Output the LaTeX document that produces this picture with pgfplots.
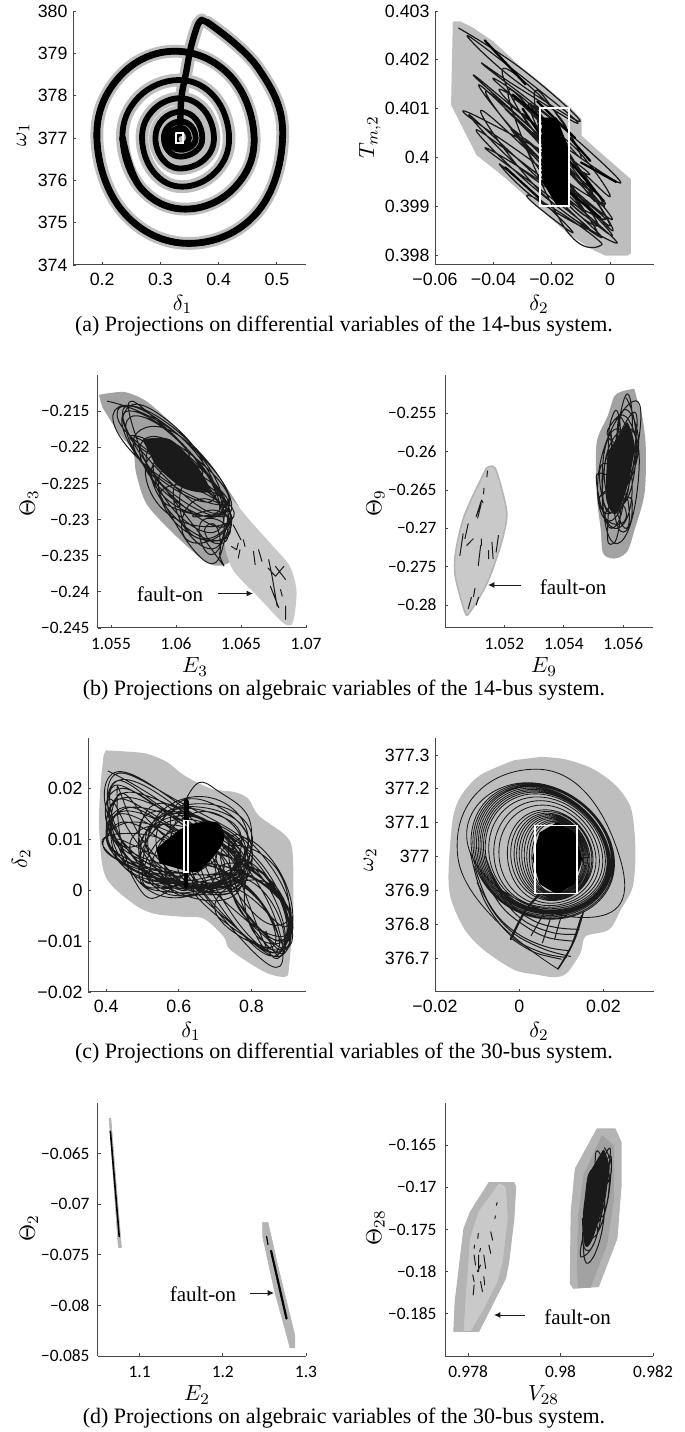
\documentclass[border=0pt]{standalone}
\usepackage{pgfplots}
\usepackage{pgfplotstable}
\pgfplotsset{compat=1.18}
\usetikzlibrary{arrows.meta}
\usepackage{fontspec}
\setmainfont{Liberation Serif}
\newfontfamily\hv{Liberation Sans}
\newfontfamily\my{Carlito}
\definecolor{gA}{HTML}{BEBEBE}
\definecolor{gD}{HTML}{A2A2A2}
\definecolor{gL}{HTML}{C9C9C9}
\definecolor{gE}{HTML}{B4B4B4}
\definecolor{ink}{HTML}{1A1A1A}
\pgfplotstableread{
x y
.334 377.15
.336 377.94
.3445 378.57
.352 379.12
.3635 379.65
.371 379.79
}\spLeg
\pgfplotstableread{
x y
.381 379.73
.468 378.65
.51 377.1
.466 375.24
.349 374.51
.237 375.24
.191 377
.23 378.45
.325 379.05
.421 378.45
.461 377
.426 375.81
.343 375.32
.267 375.81
.235 377
}\spOuter
\pgfplotstableread{
x y
.381 379.73
.468 378.65
.51 377.1
.466 375.24
.349 374.51
.237 375.24
.191 377
.23 378.45
.325 379.05
.421 378.45
.461 377
.426 375.81
.343 375.32
.267 375.81
.235 377
.263 377.97
.332 378.37
.393 377.97
.418 377
.3944 376.19
.3376 375.85
.2887 376.19
.2685 377
.2876 377.66
.3336 377.94
.3749 377.66
.392 377
.3752 376.49
.3347 376.28
.3042 376.49
.2915 377
.3042 377.44
.3347 377.62
.3611 377.44
.372 377
.3611 376.69
.3347 376.56
.3144 376.69
.306 377
.3144 377.28
.3347 377.39
.353 377.28
.3606 377
.353 376.8
.3347 376.72
.3212 376.8
.3157 377
.3212 377.17
.3347 377.24
.3448 377.17
.349 377
.3448 376.88
.3347 376.83
.3285 376.88
.326 377
.3285 377.08
.3347 377.11
}\spMain
\pgfplotsset{
  panel/.style={
    scale only axis, axis lines=left, axis line style={-,black!72,line width=.5pt},
    tick style={black!72,line width=.4pt}, tick align=inside, major tick length=1.6pt,
    enlargelimits=false, clip=false, scaled ticks=false,
    every axis plot/.append style={line join=round,line cap=round},
    label style={font=\fontsize{10.95}{13}\selectfont,inner sep=0pt},
  },
  hvt/.style={tick label style={font=\hv\fontsize{8.9}{10}\selectfont},
    xticklabel style={yshift=-.5pt},yticklabel style={xshift=.8pt}},
  myt/.style={tick label style={font=\my\fontsize{8.7}{10}\selectfont},
    xticklabel style={yshift=-1.4pt},yticklabel style={xshift=-.7pt}},
  xl/.style 2 args={xlabel style={at={(axis description cs:#1,#2)},anchor=center}},
  yl/.style 2 args={ylabel style={at={(axis description cs:#1,#2)},anchor=center}},
  loop/.style={ink,line width=.5pt,smooth,tension=1,forget plot},
  frag/.style={ink,line width=.5pt,unbounded coords=jump},
  box/.style={white,line width=.85pt,line join=miter},
  blob/.style 2 args={fill=#1,draw=#2,line width=.8pt,smooth,tension=.5},
}
\begin{document}
\begin{tikzpicture}
\path[use as bounding box] (0pt,0pt) rectangle (342.5pt,716pt);
% ---------- a left
\begin{axis}[panel,hvt,at={(36.5pt,583.5pt)},anchor=south west,width=116.5pt,height=127pt,
  xmin=.15,xmax=.55,ymin=374,ymax=380,xtick={.2,.3,.4,.5},xticklabels={0.2,0.3,0.4,0.5},
  ytick={374,375,376,377,378,379,380},yticklabels={374,375,376,377,378,379,380},
  xlabel={$\delta_1$},ylabel={$\omega_1$},xl={.47}{-.154},yl={-.2146}{.512}]
\addplot[gA,line width=6.4pt,smooth,tension=.68] table {\spMain};
\addplot[gA,line width=6.4pt,smooth,tension=.6] table {\spLeg};
\addplot[black,line width=2.9pt,smooth,tension=.68] table {\spMain};
\addplot[black,line width=3.4pt,smooth,tension=.68] table {\spOuter};
\addplot[black,line width=3.2pt,smooth,tension=.6] table {\spLeg};
\addplot[black,line width=3.2pt] coordinates {(.371,379.79)(.381,379.73)};
\addplot[box] coordinates {(.327,377.12)(.339,377.12)(.339,376.88)(.327,376.88)(.327,377.12)};
\end{axis}
% ---------- a right
\begin{axis}[panel,hvt,at={(217.5pt,583.5pt)},anchor=south west,width=109.5pt,height=127pt,
  xmin=-.06,xmax=.015,ymin=.3978,ymax=.403,xtick={-.06,-.04,-.02,0},xticklabels={−0.06,−0.04,−0.02,0},
  ytick={.398,.399,.4,.401,.402,.403},yticklabels={0.398,0.399,0.4,0.401,0.402,0.403},
  xlabel={$\delta_2$},ylabel={$T_{m,2}$},xl={.475}{-.154},yl={-.297}{.504}]
\addplot[fill=gA,draw=gA,line width=.8pt] coordinates {(-.05364,.40277)(-.05133,.40277)(-.04728,.40265)(-.04035,.40237)(-.0311,.40186)(-.02185,.40142)(-.01376,.40101)(-.01006,.40078)(-.01006,.40044)(-.00566,.4002)(.00682,.39955)(.00682,.39805)(.0059,.39801)(-.00162,.39801)(-.00566,.39812)(-.01376,.39843)(-.03688,.39965)(-.04555,.40006)(-.05422,.40108)} -- cycle;
\addplot[loop,line width=.6pt,tension=.75] coordinates {
(-.0519,.40265)(-.0300,.40180)(-.0103,.40074)(-.0330,.40160)
(-.049,.40250)(-.0290,.40160)(-.0110,.40070)(-.0320,.40145)
(-.0435,.40190)(-.0180,.40070)(.0036,.39948)(-.0220,.40050)
(-.0469,.40169)(-.0220,.40030)(.0007,.39873)(-.0260,.40010)
(-.0450,.40149)(-.0210,.40015)(-.0016,.39905)(-.0240,.39995)
(-.0427,.40135)(-.0230,.40040)(-.0070,.39965)(-.0250,.40020)
(-.0505,.40095)(-.0250,.39985)(-.0016,.39873)(-.0280,.39965)
(-.0484,.40088)(-.0250,.39960)(-.0028,.39836)(-.0265,.39940)
(-.0459,.40057)(-.0205,.39945)(.0024,.39825)(-.0230,.39925)
(-.0444,.40096)(-.0205,.39970)(.0007,.39840)(-.0235,.39950)
(-.0429,.4002)(-.0240,.39935)(-.0071,.39853)(-.0255,.39915)
(-.038,.39987)(-.0250,.39920)(-.0127,.39846)(-.0260,.39905)
(-.0271,.39921)(-.0140,.39875)(-.0028,.39822)(-.0160,.39860)
(-.035,.4013)(-.0195,.40042)(-.006,.3993)(-.0215,.40018)
(-.033,.4012)(-.0165,.40022)(-.002,.3990)(-.0185,.39998)
(-.030,.4009)(-.014,.39987)(.000,.3986)(-.016,.39963)
(-.028,.4011)(-.0155,.40022)(-.005,.3991)(-.0175,.39998)
(-.036,.4010)(-.022,.40012)(-.010,.3990)(-.024,.39988)
(-.034,.4006)(-.020,.39982)(-.008,.3988)(-.022,.39958)
(-.030,.4004)(-.016,.39962)(-.004,.3986)(-.018,.39938)
(-.026,.4013)(-.017,.40077)(-.010,.4000)(-.019,.40053)
(-.040,.4016)(-.028,.40112)(-.018,.4004)(-.030,.40088)
(-.038,.4014)(-.026,.40092)(-.016,.4002)(-.028,.40068)
(-.037,.4018)(-.025,.40132)(-.015,.4006)(-.027,.40108)
(-.022,.4007)(-.010,.40007)(.000,.3992)(-.012,.39983)
(-.020,.4001)(-.0085,.39942)(.001,.3985)(-.0105,.39918)
(-.024,.3998)(-.013,.39922)(-.004,.3984)(-.015,.39898)};
\addplot[black,line width=1.1pt,unbounded coords=jump] coordinates {
(-.0334,.40129)(-.0230,.40078)(nan,nan)
(-.0300,.40100)(-.0232,.40040)(nan,nan)
(-.0430,.40240)(-.0290,.40150)(nan,nan)
(-.0250,.40115)(-.0120,.40040)(nan,nan)
(-.0138,.4004)(-.0068,.39993)(nan,nan)
(-.014,.39993)(-.0022,.39911)(nan,nan)
(-.0143,.39931)(-.0034,.39877)(nan,nan)
(-.0100,.39990)(.0020,.39950)(nan,nan)
(-.0360,.39980)(-.0240,.39915)};
\addplot[fill=black,draw=black] coordinates {(-.0232,.40081)(-.0184,.40081)(-.014,.40013)(-.014,.39901)(-.0184,.39904)(-.0232,.39952)} -- cycle;
\addplot[box] coordinates {(-.02416,.40101)(-.01399,.40101)(-.01399,.39901)(-.02416,.39901)(-.02416,.40101)};
\end{axis}
% ---------- b left
\begin{axis}[panel,myt,at={(49pt,402pt)},anchor=south west,width=104pt,height=126.5pt,
  xmin=1.054,xmax=1.07,ymin=-.245,ymax=-.21,xtick={1.055,1.06,1.065,1.07},xticklabels={1.055,1.06,1.065,1.07},
  ytick={-.245,-.24,-.235,-.23,-.225,-.22,-.215},yticklabels={−0.245,−0.24,−0.235,−0.23,−0.225,−0.22,−0.215},
  xlabel={$E_3$},ylabel={$\Theta_3$},xl={.466}{-.154},yl={-.332}{.494}]
\addplot[blob={gD}{gD}] coordinates {(1.05414,-.21284)(1.05492,-.21261)(1.05609,-.21248)(1.05752,-.21353)(1.05908,-.21583)(1.06116,-.2195)(1.06323,-.22408)(1.06492,-.2289)(1.06414,-.23096)(1.06388,-.23372)(1.06422,-.23555)(1.0635,-.23624)(1.06271,-.2361)(1.06168,-.23486)(1.0596,-.23142)(1.05778,-.22775)(1.057,-.22362)(1.05674,-.22041)(1.0557,-.21812)(1.0544,-.21445)} -- cycle;
\addplot[blob={gL}{gL}] coordinates {(1.06362,-.22706)(1.06427,-.22729)(1.06557,-.23005)(1.06739,-.23372)(1.06869,-.23647)(1.0692,-.23968)(1.06908,-.24289)(1.06882,-.2445)(1.06817,-.24404)(1.06635,-.2406)(1.06453,-.23716)(1.06388,-.23417)(1.06375,-.2305)} -- cycle;
\addplot[loop] coordinates {
(1.05471,-.21362)(1.06038,-.21858)(1.06388,-.22775)(1.05752,-.22225)
(1.05557,-.21445)(1.0609,-.21904)(1.06414,-.22913)(1.05856,-.22454)
(1.05609,-.21514)(1.06142,-.22133)(1.06375,-.23096)(1.0583,-.22408)
(1.05648,-.21583)(1.06116,-.22087)(1.06297,-.22913)(1.05752,-.22087)
(1.05622,-.21468)(1.05934,-.21628)(1.06194,-.22271)(1.05726,-.21858)
(1.05752,-.22041)(1.06194,-.22454)(1.06427,-.23005)(1.05934,-.22913)
(1.05804,-.22133)(1.0622,-.22546)(1.06401,-.23234)(1.06012,-.23005)
(1.0583,-.22225)(1.06245,-.22454)(1.06375,-.22913)(1.0596,-.22821)
(1.05934,-.22546)(1.0622,-.22638)(1.06414,-.23005)(1.06142,-.23234)
(1.06038,-.22592)(1.06245,-.22592)(1.06388,-.22844)(1.06168,-.22959)
(1.06168,-.22913)(1.06336,-.2289)(1.06388,-.23096)(1.06271,-.23486)
(1.0618,-.23096)(1.06323,-.23005)(1.06401,-.23234)(1.06297,-.23326)
(1.0622,-.23142)(1.0631,-.23096)(1.06336,-.23463)(1.06258,-.23372)
(1.0560,-.2165)(1.0600,-.2180)(1.0630,-.2270)(1.0585,-.2240)
(1.0570,-.2180)(1.0610,-.2195)(1.0635,-.2290)(1.0590,-.2260)
(1.0575,-.2190)(1.0615,-.2215)(1.0640,-.2285)(1.0595,-.2275)
(1.0580,-.2200)(1.0620,-.2230)(1.0635,-.2310)(1.0600,-.2290)
(1.0585,-.2215)(1.0625,-.2240)(1.0640,-.2320)(1.0600,-.2305)
(1.0590,-.2230)(1.0625,-.2255)(1.0635,-.2330)(1.0610,-.2320)
(1.0600,-.2250)(1.0630,-.2270)(1.0640,-.2310)(1.0610,-.2330)
(1.0610,-.2280)(1.0635,-.2280)(1.0640,-.2315)(1.0615,-.2345)
(1.0565,-.2160)(1.0590,-.2170)(1.0620,-.2240)(1.0575,-.2200)
(1.0555,-.2150)(1.0580,-.2160)(1.0610,-.2215)(1.0568,-.2185)};
\addplot[blob={ink}{ink}] coordinates {(1.0575,-.2190)(1.0595,-.2190)(1.0615,-.2225)(1.0625,-.2260)(1.0605,-.2255)(1.0585,-.2225)} -- cycle;
\addplot[frag] coordinates {
(1.0644,-.23073)(1.065,-.2328)(nan,nan)
(1.06427,-.23372)(1.06466,-.23417)(1.06479,-.23326)(nan,nan)
(1.06479,-.23532)(1.06492,-.23417)(nan,nan)
(1.06518,-.2328)(1.06531,-.23372)(nan,nan)
(1.06596,-.2344)(1.06609,-.23624)(nan,nan)
(1.06635,-.23417)(1.06661,-.23578)(nan,nan)
(1.06713,-.23555)(1.06739,-.23784)(nan,nan)
(1.06765,-.23647)(1.06843,-.2383)(nan,nan)
(1.06708,-.2367)(1.06765,-.23784)(1.0683,-.23647)(nan,nan)
(1.06739,-.23784)(1.06778,-.24197)(nan,nan)
(1.06726,-.23922)(1.06791,-.2422)(nan,nan)
(1.06843,-.24197)(1.06843,-.24381)(nan,nan)
(1.06804,-.23968)(1.06817,-.2406)};
\end{axis}
% ---------- b right
\begin{axis}[panel,myt,at={(222.5pt,402pt)},anchor=south west,width=104pt,height=126.5pt,
  xmin=1.05,xmax=1.057,ymin=-.283,ymax=-.25,xtick={1.052,1.054,1.056},xticklabels={1.052,1.054,1.056},
  ytick={-.28,-.275,-.27,-.265,-.26,-.255},yticklabels={−0.28,−0.275,−0.27,−0.265,−0.26,−0.255},
  xlabel={$E_9$},ylabel={$\Theta_9$},xl={.476}{-.154},yl={-.334}{.494}]
\addplot[blob={gD}{gD}] coordinates {(1.05635,-.2519)(1.05647,-.25365)(1.05661,-.25539)(1.05673,-.25932)(1.05669,-.26543)(1.05635,-.27023)(1.05613,-.27284)(1.05584,-.27372)(1.05556,-.2738)(1.05533,-.27306)(1.05527,-.27023)(1.05513,-.26543)(1.05513,-.25888)(1.0555,-.25539)(1.05573,-.25278)(1.05607,-.25212)} -- cycle;
\addplot[blob={gL}{gE}] coordinates {(1.05139,-.26216)(1.05169,-.26216)(1.05203,-.26674)(1.05207,-.26892)(1.05186,-.27241)(1.05141,-.27721)(1.05084,-.28092)(1.05067,-.28092)(1.05035,-.27634)(1.05035,-.27328)(1.0506,-.26892)(1.05095,-.26565)} -- cycle;
\addplot[loop] coordinates {
(1.0561,-.2530)(1.0564,-.2600)(1.0556,-.2690)(1.0552,-.2620)
(1.0563,-.2535)(1.0565,-.2590)(1.0558,-.2660)(1.0555,-.2600)
(1.0557,-.2548)(1.0559,-.2570)(1.0557,-.2588)(1.0555,-.2570)
(1.0562,-.2560)(1.0565,-.2640)(1.0558,-.2720)(1.0553,-.2650)
(1.0558,-.2590)(1.0563,-.2650)(1.0557,-.2700)(1.0551,-.2640)
(1.0555,-.2630)(1.0561,-.2640)(1.0556,-.2680)(1.0552,-.2660)
(1.0559,-.2650)(1.0562,-.2680)(1.0560,-.2705)(1.0557,-.2680)
(1.0557,-.2640)(1.0559,-.2680)(1.05565,-.2720)(1.0555,-.2680)
(1.0560,-.2535)(1.0563,-.2570)(1.0559,-.2610)(1.0558,-.2570)
(1.0560,-.2560)(1.0563,-.2610)(1.0556,-.2680)(1.0553,-.2620)
(1.0558,-.2570)(1.0562,-.2620)(1.0557,-.2670)(1.0554,-.2610)
(1.0562,-.2570)(1.0564,-.2620)(1.0559,-.2670)(1.0556,-.2620)
(1.0563,-.2550)(1.0564,-.2590)(1.0560,-.2630)(1.0558,-.2590)
(1.0561,-.2545)(1.0565,-.2600)(1.0558,-.2650)(1.0556,-.2580)
(1.0557,-.2600)(1.0562,-.2640)(1.0556,-.2680)(1.0552,-.2630)
(1.0556,-.2620)(1.0560,-.2660)(1.0556,-.2700)(1.0553,-.2660)
(1.0557,-.2660)(1.0561,-.2680)(1.0558,-.2695)(1.0554,-.2680)
(1.0561,-.2660)(1.0563,-.2675)(1.0561,-.2700)(1.0558,-.2680)};
\addplot[blob={ink}{ink}] coordinates {(1.05613,-.25627)(1.05635,-.25932)(1.05607,-.26499)(1.05573,-.26805)(1.05544,-.26586)(1.0555,-.26019)} -- cycle;
\addplot[frag] coordinates {
(1.05143,-.2625)(1.05141,-.26329)(nan,nan)
(1.05131,-.26478)(1.0513,-.26552)(nan,nan)
(1.05110,-.26867)(1.05122,-.26674)(nan,nan)
(1.05105,-.26845)(1.05123,-.26631)(1.05128,-.26666)(nan,nan)
(1.05078,-.2694)(1.05067,-.27136)(nan,nan)
(1.05061,-.27071)(1.0505,-.27354)(nan,nan)
(1.05095,-.27136)(1.05073,-.27223)(nan,nan)
(1.05122,-.27136)(1.05122,-.27223)(nan,nan)
(1.0512,-.27223)(1.05112,-.27485)(nan,nan)
(1.05147,-.27289)(1.05147,-.27398)(nan,nan)
(1.05158,-.27180)(1.05162,-.27398)(nan,nan)
(1.0518,-.27093)(1.05172,-.27311)(nan,nan)
(1.05101,-.27783)(1.05096,-.27891)(nan,nan)
(1.05113,-.27900)(1.05105,-.28000)(nan,nan)
(1.05089,-.2790)(1.05078,-.2805)};
\end{axis}
% ---------- c left
\begin{axis}[panel,hvt,at={(44pt,220pt)},anchor=south west,width=109pt,height=127pt,
  xmin=.35,xmax=.95,ymin=-.02,ymax=.03,xtick={.4,.6,.8},xticklabels={0.4,0.6,0.8},
  ytick={-.02,-.01,0,.01,.02},yticklabels={−0.02,−0.01,0,0.01,0.02},
  xlabel={$\delta_1$},ylabel={$\delta_2$},xl={.472}{-.154},yl={-.307}{.524}]
\addplot[blob={gA}{gA}] coordinates {(.4,.0274)(.451,.0272)(.5114,.02675)(.567,.0251)(.6136,.0225)(.688,.01987)(.753,.0192)(.79,.0179)(.818,.01462)(.892,.0107)(.911,.0074)(.9125,-.0044)(.9014,-.0149)(.892,-.01685)(.8364,-.0159)(.7436,-.0116)(.725,-.009)(.669,-.0054)(.604,-.005)(.53,-.0044)(.474,-.0024)(.4,.0028)(.383,.012)(.386,.01987)(.395,.0265)} -- cycle;
\addplot[loop,line width=.45pt] coordinates {
(.405,.0235)(.60,.0150)(.79,.0030)(.50,.0060)
(.41,.0225)(.62,.0160)(.78,.0040)(.52,.0040)
(.41,.0215)(.60,.0175)(.80,.0060)(.52,.0030)
(.415,.0205)(.62,.0150)(.77,.0005)(.54,.0020)
(.41,.0190)(.56,.0155)(.74,.0030)(.50,.0040)
(.42,.0175)(.60,.0160)(.78,.0060)(.50,.0025)
(.41,.0160)(.58,.0150)(.76,.0020)(.48,.0040)
(.42,.0145)(.60,.0140)(.78,.0040)(.52,.0015)
(.415,.0130)(.55,.0135)(.72,.0020)(.46,.0050)
(.41,.0115)(.56,.0120)(.70,.0025)(.50,.0010)
(.43,.0200)(.50,.0100)(.62,.0000)(.44,.0080)
(.41,.0180)(.49,.0090)(.60,.0010)(.43,.0060)
(.42,.0110)(.60,.0080)(.56,-.0006)(.47,.0030)
(.41,.0200)(.55,.0165)(.70,.0060)(.46,.0080)
(.42,.0195)(.58,.0145)(.72,.0040)(.47,.0070)
(.415,.0170)(.54,.0145)(.68,.0050)(.45,.0060)
(.425,.0155)(.56,.0130)(.66,.0040)(.46,.0055)
(.415,.0140)(.53,.0125)(.64,.0040)(.45,.0065)
(.42,.0125)(.52,.0115)(.62,.0035)(.45,.0055)
(.43,.0185)(.52,.0135)(.60,.0060)(.44,.0100)
(.49,.0090)(.63,.0165)(.79,.0090)(.60,-.0005)
(.50,.0100)(.68,.0170)(.80,.0080)(.62,.0005)
(.52,.0120)(.70,.0180)(.78,.0060)(.58,.0000)
(.62,.0180)(.72,.0190)(.80,.0100)(.70,.0000)
(.48,.0060)(.56,.0130)(.76,.0060)(.60,.0010)
(.50,.0030)(.62,.0120)(.78,.0020)(.60,-.0005)
(.49,.0040)(.60,.0140)(.77,.0060)(.56,-.0005)
(.50,.0140)(.64,.0150)(.77,.0040)(.60,.0015)
(.49,.0120)(.62,.0150)(.78,.0070)(.58,.0015)
(.50,.0050)(.60,.0155)(.79,.0045)(.62,.0005)
(.52,.0040)(.66,.0155)(.79,.0060)(.66,.0005)
(.49,.0075)(.64,.0145)(.78,.0030)(.62,.0010)
(.51,.0110)(.66,.0140)(.77,.0020)(.60,.0020)
(.55,.0135)(.70,.0150)(.77,.0080)(.66,.0015)
(.58,.0150)(.72,.0160)(.80,.0050)(.68,-.0005)
(.60,.0100)(.78,.0050)(.885,-.0140)(.74,-.0070)
(.62,.0080)(.80,.0050)(.89,-.0120)(.74,-.0060)
(.64,.0060)(.82,.0030)(.90,-.0100)(.76,-.0080)
(.62,.0040)(.84,.0010)(.89,-.0110)(.78,-.0090)
(.66,.0070)(.85,.0010)(.905,-.0085)(.80,-.0060)
(.70,.0090)(.86,.0000)(.90,-.0060)(.80,-.0040)
(.72,.0080)(.88,.0030)(.88,-.0130)(.80,-.0040)
(.76,.0100)(.89,.0020)(.895,-.0105)(.82,-.0020)
(.70,.0050)(.87,-.0010)(.89,-.0090)(.76,-.0030)
(.78,.0060)(.90,-.0050)(.88,-.0120)(.80,-.0070)
(.74,.0100)(.86,.0040)(.90,-.0070)(.78,-.0005)
(.68,.0030)(.83,.0000)(.88,-.0120)(.74,-.0040)
(.66,.0120)(.82,.0050)(.895,-.0090)(.78,-.0040)
(.69,.0100)(.84,.0040)(.90,-.0110)(.77,-.0030)
(.72,.0050)(.87,.0005)(.895,-.0120)(.79,-.0060)
(.75,.0030)(.88,-.0020)(.90,-.0095)(.80,-.0075)
(.80,.0040)(.89,-.0030)(.89,-.0110)(.82,-.0080)
(.65,.0040)(.80,.0000)(.87,-.0120)(.72,-.0050)
(.60,.0050)(.78,.0010)(.86,-.0110)(.70,-.0040)
(.82,.0020)(.90,-.0060)(.88,-.0130)(.84,-.0080)};
\addplot[blob={black}{black}] coordinates {(.54,.0081)(.623,.0126)(.705,.0132)(.72,.0095)(.66,.0042)(.623,.0040)(.549,.0055)} -- cycle;
\addplot[black,line width=2.5pt] coordinates {(.62,.0175)(.62,.0138)};
\addplot[black,line width=2pt] coordinates {(.62,.0036)(.62,.0008)};
\addplot[box] coordinates {(.6136,.01377)(.6256,.01377)(.6256,.0036)(.6136,.0036)(.6136,.01377)};
\end{axis}
% ---------- c right
\begin{axis}[panel,hvt,at={(217.5pt,220pt)},anchor=south west,width=109.5pt,height=127pt,
  xmin=-.02,xmax=.032,ymin=376.6,ymax=377.35,xtick={-.02,0,.02},xticklabels={−0.02,0,0.02},
  ytick={376.7,376.8,376.9,377,377.1,377.2,377.3},yticklabels={376.7,376.8,376.9,377,377.1,377.2,377.3},
  xlabel={$\delta_2$},ylabel={$\omega_2$},xl={.475}{-.154},yl={-.297}{.52}]
\addplot[blob={gA}{gA}] coordinates {(.0052,377.292)(.0108,377.285)(.0172,377.258)(.0228,377.208)(.0264,377.14)(.0274,377.022)(.0268,376.913)(.024,376.845)(.0212,376.786)(.0156,376.766)(.0144,376.717)(.0112,376.658)(.0084,376.646)(.0044,376.653)(-.0012,376.668)(-.0084,376.727)(-.0128,376.786)(-.016,376.874)(-.0166,376.953)(-.0156,377.11)(-.0136,377.179)(-.0092,377.238)(-.0012,377.282)} -- cycle;
\addplot[loop,line width=.42pt] coordinates {
(.0092,376.668)(-.0146,377.0)(.004,377.258)(.0238,377)(.0148,376.82)
(-.0116,377.01)(.002,377.218)(.0224,377.01)(.0076,376.815)
(-.0112,377.01)(.0022,377.215)(.0222,377.01)(.0074,376.818)
(-.0108,377.01)(.0025,377.212)(.0220,377.01)(.0072,376.822)
(-.0104,377.01)(.0027,377.209)(.0218,377.01)(.0072,376.826)
(-.0100,377.01)(.003,377.206)(.0216,377.0)(.007,376.830)
(-.0096,377.01)(.0032,377.202)(.0214,377.0)(.007,376.833)
(-.0092,377.01)(.0035,377.198)(.0212,377.0)(.007,376.836)
(-.0088,377.01)(.0037,377.194)(.0210,377.0)(.007,376.839)
(-.0084,377.01)(.004,377.190)(.0208,377.0)(.0068,376.842)
(-.0080,377.01)(.0042,377.185)(.0204,377.0)(.0068,376.846)
(-.0072,377.01)(.0047,377.176)(.0198,377.0)(.007,376.850)
(-.0060,377.0)(.005,377.165)(.0190,377.0)(.0072,376.855)
(-.0048,377.0)(.0055,377.152)(.0182,377.0)(.0075,376.862)
(-.0028,377.0)(.0062,377.138)(.0175,377.0)(.0078,376.870)
(-.0020,377.0)(.0065,377.133)(.0172,377.0)(.008,376.873)
(-.0012,377.0)(.0068,377.128)(.0168,376.995)(.008,376.876)
(-.0006,377.0)(.007,377.124)(.0165,376.995)(.0082,376.879)
(.0000,377.0)(.0072,377.120)(.0162,376.995)(.0082,376.882)
(.0006,377.0)(.0074,377.116)(.0159,376.995)(.0083,376.885)
(.0012,377.0)(.0076,377.112)(.0156,376.995)(.0085,376.888)
(.0018,376.995)(.0078,377.108)(.0153,376.995)(.0085,376.890)
(.0024,376.995)(.008,377.104)(.0150,376.995)(.0085,376.892)
(.0030,376.995)(.0082,377.100)(.0147,376.995)(.0088,376.895)};
\addplot[loop,tension=.6] coordinates {(-.0116,377.012)(-.0084,376.874)(-.002,376.766)(.0052,376.717)(.0112,376.702)};
\addplot[loop,tension=.6] coordinates {(-.01,376.923)(-.0052,376.825)(.0004,376.766)(.0068,376.732)(.012,376.722)};
\addplot[loop,tension=.6] coordinates {(-.0090,376.950)(-.0040,376.850)(.0020,376.790)(.0070,376.760)(.0130,376.750)};
\addplot[loop,tension=.6] coordinates {(-.0106,376.97)(-.0070,376.855)(-.0015,376.775)(.0058,376.727)(.0122,376.705)};
\addplot[loop,tension=.6] coordinates {(-.0080,377.0)(-.0040,376.88)(.0012,376.81)(.0080,376.775)(.0135,376.77)};
\addplot[loop,tension=.6] coordinates {(-.0065,376.95)(-.0020,376.86)(.0035,376.81)(.0090,376.79)(.0142,376.785)};
\addplot[loop,tension=.6] coordinates {(-.0016,376.756)(.0036,376.717)(.01,376.697)};
\addplot[frag] coordinates {(.0028,376.766)(.006,376.835)(nan,nan)(.0084,376.756)(.01,376.825)(nan,nan)(.0055,376.745)(.0075,376.82)};
\addplot[ink,line width=1.1pt,smooth,tension=.6] coordinates {(-.002,376.756)(.0012,376.835)(.0048,376.889)};
\addplot[ink,line width=.8pt,smooth,tension=.6] coordinates {(.0092,376.668)(.0124,376.736)(.0148,376.825)};
\addplot[ink,line width=.7pt,smooth,tension=.6] coordinates {(.0104,376.692)(.0132,376.756)(.0152,376.835)};
\addplot[fill=black,draw=black] coordinates {(.0032,376.995)(.0049,377.07)(.009,377.1)(.0131,377.07)(.0148,376.995)(.0131,376.92)(.009,376.889)(.0049,376.92)} -- cycle;
\addplot[box] coordinates {(.0037,377.092)(.0137,377.092)(.0137,376.891)(.0037,376.891)(.0037,377.092)};
\end{axis}
% ---------- d left
\begin{axis}[panel,myt,at={(49pt,38pt)},anchor=south west,width=104pt,height=126.5pt,
  xmin=1.05,xmax=1.3,ymin=-.085,ymax=-.06,xtick={1.1,1.2,1.3},xticklabels={1.1,1.2,1.3},
  ytick={-.085,-.08,-.075,-.07,-.065},yticklabels={−0.085,−0.08,−0.075,−0.07,−0.065},
  xlabel={$E_2$},ylabel={$\Theta_2$},xl={.476}{-.154},yl={-.332}{.506}]
\addplot[fill=gE,draw=gE,line width=.3pt] coordinates {(1.0633,-.0615)(1.0654,-.0615)(1.0782,-.0743)(1.0745,-.0743)} -- cycle;
\addplot[fill=gE,draw=gE,line width=.3pt] coordinates {(1.2479,-.0718)(1.2543,-.0718)(1.267,-.0764)(1.2867,-.083)(1.2867,-.0842)(1.2809,-.0842)(1.2617,-.0784)(1.2479,-.0732)} -- cycle;
\addplot[black,line width=.8pt] coordinates {(1.0649,-.0628)(1.0755,-.0732)};
\addplot[black,line width=.6pt] coordinates {(1.2527,-.0732)(1.2543,-.074)};
\addplot[black,line width=1.1pt] coordinates {(1.258,-.0746)(1.2766,-.0813)};
\end{axis}
% ---------- d right
\begin{axis}[panel,myt,at={(222.5pt,38pt)},anchor=south west,width=104pt,height=126.5pt,
  xmin=.9775,xmax=.982,ymin=-.19,ymax=-.16,xtick={.978,.98,.982},xticklabels={0.978,0.98,0.982},
  ytick={-.185,-.18,-.175,-.17,-.165},yticklabels={−0.185,−0.18,−0.175,−0.17,−0.165},
  xlabel={$V_{28}$},ylabel={$\Theta_{28}$},xl={.474}{-.154},yl={-.334}{.506}]
\addplot[fill=gE,draw=gE,line width=.5pt] coordinates {(.97845,-.16945)(.97899,-.16945)(.97903,-.16996)(.97899,-.1737)(.97888,-.17882)(.97881,-.18079)(.97845,-.18472)(.97823,-.18709)(.97769,-.18709)(.97772,-.18354)(.97791,-.17488)(.97805,-.17291)} -- cycle;
\addplot[fill=gL,draw=gL,line width=.3pt] coordinates {(.97867,-.16957)(.97881,-.16996)(.97885,-.1737)(.97874,-.17882)(.97863,-.18118)(.97834,-.18433)(.97805,-.18701)(.97791,-.18701)(.97795,-.18354)(.97805,-.17606)(.97823,-.17291)} -- cycle;
\addplot[fill=gE,draw=gE,line width=.5pt] coordinates {(.98079,-.16307)(.98118,-.16307)(.98131,-.16465)(.98131,-.16976)(.98122,-.17606)(.98082,-.18177)(.98028,-.18197)(.98021,-.18138)(.98023,-.17291)(.98032,-.1678)} -- cycle;
\addplot[fill=gD,draw=gD,line width=.3pt] coordinates {(.9809,-.16386)(.98115,-.16504)(.98115,-.17134)(.981,-.17685)(.98064,-.18189)(.98039,-.18189)(.98036,-.18)(.98039,-.17331)(.9805,-.16858)} -- cycle;
\addplot[loop] coordinates {
(.98095,-.1653)(.9811,-.1680)(.98085,-.1700)(.98075,-.1670)
(.98085,-.1660)(.98105,-.1700)(.9807,-.1760)(.98055,-.1710)
(.98075,-.1680)(.98095,-.1730)(.9806,-.1790)(.98048,-.1745)
(.98055,-.1740)(.9808,-.1750)(.98055,-.1780)(.98048,-.1760)
(.98098,-.1670)(.98108,-.1690)(.9809,-.1735)(.9808,-.1700)
(.98085,-.1665)(.98100,-.1695)(.98075,-.1745)(.98060,-.1700)
(.98075,-.1700)(.98090,-.1725)(.98062,-.1775)(.98052,-.1735)
(.98098,-.1660)(.98105,-.1675)(.98090,-.1710)(.98075,-.1690)};
\addplot[blob={ink}{ink}] coordinates {(.98093,-.16563)(.98104,-.1678)(.9809,-.17213)(.98068,-.17606)(.98054,-.17685)(.9805,-.17331)(.98061,-.16858)} -- cycle;
\addplot[frag] coordinates {
(.97863,-.17181)(.97861,-.17213)(nan,nan)
(.97859,-.17339)(.97858,-.17370)(nan,nan)
(.97822,-.17547)(.97821,-.17606)(nan,nan)
(.97849,-.17528)(.97853,-.17626)(nan,nan)
(.97814,-.17685)(.97813,-.17724)(nan,nan)
(.97827,-.17724)(.97825,-.17764)(nan,nan)
(.97845,-.17685)(.97849,-.17783)(nan,nan)
(.97813,-.17803)(.97816,-.17921)(nan,nan)
(.97823,-.17803)(.97823,-.18)(nan,nan)
(.97834,-.17803)(.97838,-.17961)(nan,nan)
(.9781,-.18039)(.97813,-.18118)(nan,nan)
(.97813,-.18157)(.97811,-.18276)(nan,nan)
(.97827,-.18118)(.97831,-.18236)(nan,nan)
(.97834,-.18059)(.97836,-.18157)(nan,nan)
(.9782,-.18)(.97827,-.17921)};
\end{axis}
% ---------- annotations
\tikzset{capt/.style={font=\fontsize{11}{12}\selectfont,inner sep=0pt},
  fo/.style={font=\fontsize{10.5}{12}\selectfont,inner sep=0pt},
  ar/.style={-{Latex[length=3.2pt,width=3pt]},line width=.45pt,ink}}
\node[capt] at (172pt,553pt) {(a) Projections on differential variables of the 14-bus system.};
\node[capt] at (172pt,371pt) {(b) Projections on algebraic variables of the 14-bus system.};
\node[capt] at (172pt,189.5pt) {(c) Projections on differential variables of the 30-bus system.};
\node[capt] at (172pt,7pt) {(d) Projections on algebraic variables of the 30-bus system.};
\node[fo] at (85pt,419pt) {fault-on};
\draw[ar] (109pt,419.25pt) -- (126.5pt,419.25pt);
\node[fo] at (286.5pt,422.5pt) {fault-on};
\draw[ar] (260.5pt,423.5pt) -- (244pt,423.5pt);
\node[fo] at (101.5pt,69pt) {fault-on};
\draw[ar] (125pt,69.5pt) -- (137pt,69.5pt);
\node[fo] at (288.75pt,57.5pt) {fault-on};
\draw[ar] (262.5pt,58.5pt) -- (247pt,58.5pt);
\end{tikzpicture}
\end{document}
